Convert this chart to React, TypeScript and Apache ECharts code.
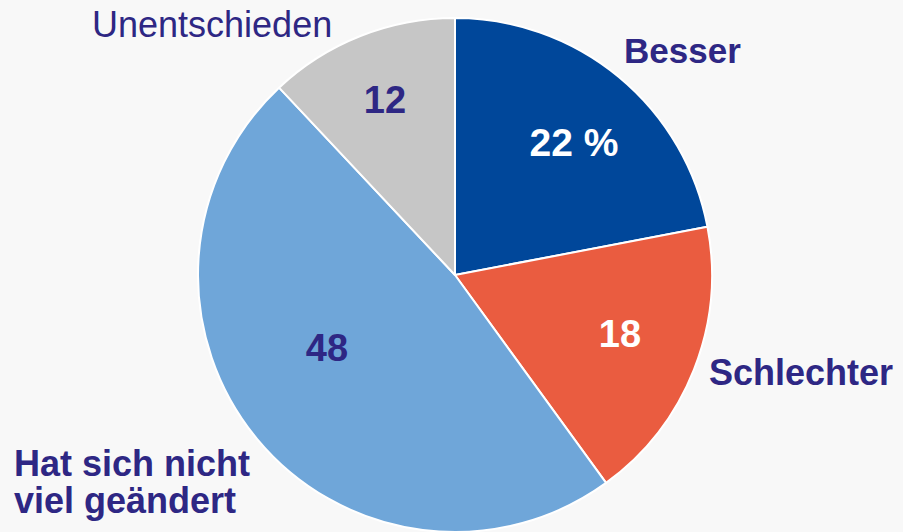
import React, { useEffect, useRef } from "react";
import * as echarts from "echarts";

const categories = ["Besser", "Schlechter", "Hat sich nicht\nviel geändert", "Unentschieden"];
const values = [22, 18, 48, 12];
const valueLabels = ["22 %", "18", "48", "12"];
const colors = ["#00479a", "#ea5c40", "#6fa6d9", "#c6c6c6"];

// layout of the texts (pixels)
const namePos: [number, number][] = [
  [624, 50],
  [709, 372],
  [14, 482],
  [92, 24],
];
const nameSizes = [35, 36, 36, 36];
const valuePos: [number, number][] = [
  [574, 142],
  [620, 334],
  [327, 348],
  [385, 100],
];
const valueColors = ["#ffffff", "#ffffff", "#2e2784", "#2e2784"];
const TEXT = "#2e2784";

export default function App() {
  const ref = useRef<HTMLDivElement>(null);
  useEffect(() => {
    if (!ref.current) return;
    const chart = echarts.init(ref.current, undefined, { renderer: "svg" });
    const gfx = categories.map((c, i) => ({
      type: "text",
      x: namePos[i][0],
      y: namePos[i][1],
      z: 100,
      style: {
        text: c,
        fill: TEXT,
        font: `${i === 3 ? "normal" : "bold"} ${nameSizes[i]}px "Liberation Sans", Arial, sans-serif`,
        align: "left",
        verticalAlign: "middle",
        lineHeight: 37,
      },
    }));
    const vgfx = valueLabels.map((v, i) => ({
      type: "text",
      x: valuePos[i][0],
      y: valuePos[i][1],
      z: 100,
      style: {
        text: v,
        fill: valueColors[i],
        font: `bold ${i === 0 ? 39 : 38}px "Liberation Sans", Arial, sans-serif`,
        align: "center",
        verticalAlign: "middle",
      },
    }));
    chart.setOption({
      animation: false,
      backgroundColor: "#f8f8f8",
      series: [
        {
          type: "pie",
          center: [455, 275],
          radius: 257,
          startAngle: 90,
          clockwise: true,
          silent: true,
          z: 2,
          label: { show: false },
          labelLine: { show: false },
          itemStyle: { borderColor: "#ffffff", borderWidth: 2 },
          data: categories.map((c, i) => ({
            name: c,
            value: values[i],
            itemStyle: { color: colors[i] },
          })),
        },
      ],
      graphic: { z: 100, elements: [...gfx, ...vgfx] },
    });
    return () => chart.dispose();
  }, []);
  return <div ref={ref} style={{ width: 903, height: 532, position: "absolute", left: 0, top: 0 }} />;
}
